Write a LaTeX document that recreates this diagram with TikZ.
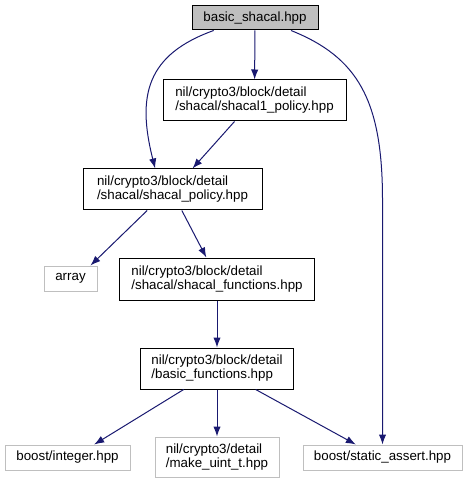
\documentclass[tikz,border=0pt]{standalone}
\usepackage{fontspec}
\setmainfont{Liberation Sans}
\usepackage{xcolor}
\definecolor{cEdge}{HTML}{191970}
\definecolor{cRoot}{HTML}{BFBFBF}
\definecolor{cExt}{HTML}{BFBFBF}
\usepackage{tikz}
\usetikzlibrary{arrows.meta}

\begin{document}
\begin{tikzpicture}[
    x=0.75pt, y=-0.75pt,
    file/.style   = {draw=black, line width=0.75pt, fill=white, align=left,
                     inner sep=0pt, font=\fontsize{10}{10.5}\selectfont},
    root/.style   = {file, fill=cRoot},
    ext/.style    = {file, draw=cExt},
    sz/.style 2 args = {minimum width=#1*0.75pt, minimum height=#2*0.75pt},
    arr/.style    = {-{Latex[length=7.5pt, width=5.5pt]}, line width=0.75pt, color=cEdge}
]
\useasboundingbox (0,0) rectangle (467,484);

% --- Koren a prime zavislosti --------------------------------------------
\node[root, sz={126}{24}] (root) at (255,18)    {basic\_shacal.hpp};
\node[file, sz={183}{41}] (s1p)  at (254.5,100.5)
  {nil/crypto3/block/detail\\/shacal/shacal1\_policy.hpp};
\node[file, sz={179}{41}] (sp)   at (172.5,189.5)
  {nil/crypto3/block/detail\\/shacal/shacal\_policy.hpp};

% --- Stredni vrstva ------------------------------------------------------
\node[ext,  sz={53}{25}]  (arr)  at (70.5,278.5) {array};
\node[file, sz={195}{42}] (sf)   at (217,279)
  {nil/crypto3/block/detail\\/shacal/shacal\_functions.hpp};
\node[file, sz={153}{41}] (bf)   at (217,368.5)
  {nil/crypto3/block/detail\\/basic\_functions.hpp};

% --- Externi hlavicky (dole) ---------------------------------------------
\node[ext, sz={125}{25}] (int) at (67.5,457.5)  {boost/integer.hpp};
\node[ext, sz={124}{40}] (mk)  at (217,457)
  {nil/crypto3/detail\\/make\_uint\_t.hpp};
\node[ext, sz={159}{25}] (sa)  at (382.5,457.5) {boost/static\_assert.hpp};

% --- Hrany ---------------------------------------------------------------
\draw[arr] (root) -- (s1p);
\draw[arr] ([xshift=-31pt]root.south)
  .. controls +(-50pt,-18pt) and +(-14pt,55pt) .. ([xshift=-13pt]sp.north);
\coordinate (saBend) at (382.5,200);
\draw[arr] ([xshift=27pt]root.south)
  .. controls +(50pt,-20pt) and +(0,75pt) .. (saBend) -- (sa.north);
\draw[arr] ([xshift=-15pt]s1p.south) -- ([xshift=15pt]sp.north);
\draw[arr] ([xshift=-19pt]sp.south) -- ([xshift=15pt]arr.north);
\draw[arr] ([xshift=7pt]sp.south)   -- ([xshift=-8pt]sf.north);
\draw[arr] (sf) -- (bf);
\draw[arr] ([xshift=-25pt]bf.south) -- ([xshift=20pt]int.north);
\draw[arr] (bf) -- (mk);
\draw[arr] ([xshift=29pt]bf.south)  -- ([xshift=-20pt]sa.north);
\end{tikzpicture}
\end{document}
